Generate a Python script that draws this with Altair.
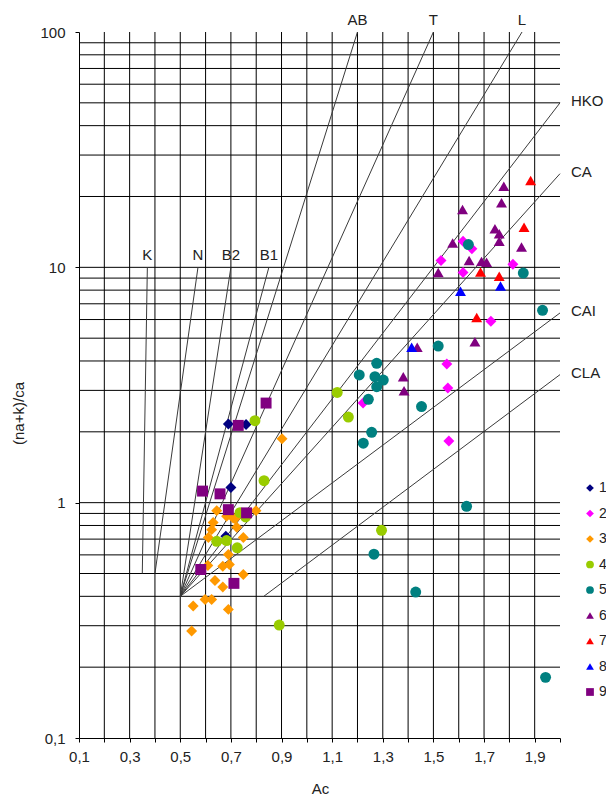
import altair as alt
import pandas as pd

# ---- samples: Ac versus (na+k)/ca, one pair of lists per group ----
s1_x = [0.69, 0.76, 0.70, 0.68]
s1_y = [2.16, 2.15, 1.16, 0.72]

s2_x = [1.53, 1.617, 1.652, 1.617, 1.814, 1.727, 1.553, 1.557, 1.561, 1.222]
s2_y = [10.7, 12.9, 12.0, 9.5, 10.3, 5.9, 3.88, 3.07, 1.83, 2.65]

s3_x = [0.902, 0.644, 0.799, 0.683, 0.709, 0.630, 0.716, 0.624, 0.723, 0.611, 0.749,
        0.690, 0.609, 0.668, 0.694, 0.749, 0.637, 0.668, 0.598, 0.624, 0.551, 0.690, 0.545]
s3_y = [1.87, 0.925, 0.925, 0.875, 0.861, 0.823, 0.855, 0.768, 0.786, 0.711, 0.711,
        0.602, 0.541, 0.537, 0.546, 0.495, 0.467, 0.438, 0.388, 0.388, 0.364, 0.352, 0.285]

s4_x = [0.795, 0.831, 0.736, 0.758, 0.644, 0.683, 0.725, 0.891, 1.120, 1.164, 1.295]
s4_y = [2.23, 1.24, 0.907, 0.870, 0.685, 0.690, 0.643, 0.302, 2.94, 2.31, 0.763]

s5_x = [1.638, 1.855, 1.931, 1.519, 1.276, 1.207, 1.269, 1.302, 1.276, 1.243, 1.453,
        1.256, 1.223, 1.631, 1.265, 1.430, 1.943]
s5_y = [12.5, 9.46, 6.57, 4.63, 3.91, 3.49, 3.43, 3.32, 3.11, 2.75, 2.56,
        1.99, 1.79, 0.965, 0.604, 0.417, 0.181]

s6_x = [1.778, 1.615, 1.769, 1.743, 1.760, 1.760, 1.576, 1.641, 1.690, 1.710, 1.848,
        1.519, 1.436, 1.381, 1.384, 1.664]
s6_y = [22.1, 17.6, 18.8, 14.6, 13.9, 12.9, 12.7, 10.7, 10.6, 10.5, 12.2,
        9.5, 4.57, 3.43, 2.99, 4.83]

s7_x = [1.884, 1.858, 1.686, 1.760, 1.671]
s7_y = [23.4, 14.8, 9.55, 9.16, 6.12]

s8_x = [1.607, 1.765, 1.414]
s8_y = [7.91, 8.33, 4.57]

s9_x = [0.839, 0.729, 0.588, 0.657, 0.690, 0.762, 0.581, 0.712]
s9_y = [2.65, 2.13, 1.12, 1.09, 0.934, 0.905, 0.520, 0.454]

groups = ["1", "2", "3", "4", "5", "6", "7", "8", "9"]
group_colors = ["#000080", "#FF00FF", "#FF9900", "#99CC00", "#008080",
                "#800080", "#FF0000", "#0000FF", "#800080"]
group_shapes = ["diamond", "diamond", "diamond", "circle", "circle",
                "triangle-up", "triangle-up", "triangle-up", "square"]

# ---- classification boundary lines (start point -> end point) ----
line_names = ["K", "N", "B2", "B1", "AB", "T", "L", "HKO", "CA", "CAI", "CLA"]
line_x0 = [0.35, 0.40, 0.5, 0.5, 0.5, 0.5, 0.5, 0.5, 0.5, 0.5, 0.83]
line_y0 = [0.5, 0.5, 0.4, 0.4, 0.4, 0.4, 0.4, 0.4, 0.4, 0.4, 0.4]
line_x1 = [0.37, 0.57, 0.70, 0.85, 1.20, 1.50, 1.85, 2.0, 2.0, 2.0, 2.0]
line_y1 = [10, 10, 10, 10, 100, 100, 100, 50, 25, 6.4, 3.5]

# ---- grid ----
x_grid = [round(0.1 * i, 1) for i in range(2, 20)]
y_grid = [round(m * d, 2) for d in (0.1, 1, 10) for m in range(2, 10)] + [1, 10]
x_ticks = [round(0.1 * i, 1) for i in range(1, 21)]
y_ticks = [0.1, 1, 10, 100]

FONT = "Liberation Sans"
INK = "#222222"
XMAX = 2.0

xs = [s1_x, s2_x, s3_x, s4_x, s5_x, s6_x, s7_x, s8_x, s9_x]
ys = [s1_y, s2_y, s3_y, s4_y, s5_y, s6_y, s7_y, s8_y, s9_y]
rows = []
for g, gx, gy in zip(groups, xs, ys):
    for a, b in zip(gx, gy):
        rows.append({"group": g, "Ac": a, "ratio": b})
pts = pd.DataFrame(rows)

seg_rows = []
for n, a0, b0, a1, b1 in zip(line_names, line_x0, line_y0, line_x1, line_y1):
    seg_rows.append({"name": n, "Ac": a0, "ratio": b0, "end": 0})
    seg_rows.append({"name": n, "Ac": a1, "ratio": b1, "end": 1})
segs = pd.DataFrame(seg_rows)

ends = segs[segs["end"] == 1]
top_labels = ends[ends["Ac"] < XMAX]
side_labels = ends[ends["Ac"] >= XMAX]

x_scale = alt.Scale(domain=[0.1, XMAX], nice=False, zero=False)
y_scale = alt.Scale(type="log", domain=[0.1, 100], nice=False)

x_label_expr = ("(round(datum.value * 10) % 2 == 1) ? "
                "replace(format(datum.value, '.1f'), '.', ',') : ''")
y_label_expr = "replace(format(datum.value, '~g'), '.', ',')"

x_axis = alt.Axis(
    title="Ac", values=x_ticks, labelExpr=x_label_expr, grid=False,
    tickSize=4, labelPadding=7, labelFont=FONT, labelFontSize=15,
    labelColor=INK, titleFont=FONT, titleFontSize=15, titleFontWeight="normal",
    titleColor=INK, titleX=241, titleY=55, titleBaseline="alphabetic",
    domainColor="#000000", tickColor="#000000", labelFlush=False, labelOverlap=False,
)
y_axis = alt.Axis(
    title="(na+k)/ca", values=y_ticks, labelExpr=y_label_expr, grid=False,
    tickSize=4, labelPadding=10, labelFont=FONT, labelFontSize=15,
    labelColor=INK, titleFont=FONT, titleFontSize=15, titleFontWeight="normal",
    titleColor=INK, titleX=-61, titleY=381, titleAlign="center",
    titleBaseline="middle", titleAngle=270,
    domainColor="#000000", tickColor="#000000", labelFlush=False, labelOverlap=False,
)

X = alt.X("Ac:Q", scale=x_scale, axis=x_axis)
Y = alt.Y("ratio:Q", scale=y_scale, axis=y_axis)

vgrid = alt.Chart(pd.DataFrame({"Ac": x_grid})).mark_rule(
    color="#000000", strokeWidth=1
).encode(x=X)

hgrid = alt.Chart(pd.DataFrame({"ratio": y_grid})).mark_rule(
    color="#000000", strokeWidth=1
).encode(y=Y)

lines = alt.Chart(segs).mark_line(color="#3a3a3a", strokeWidth=1).encode(
    x=X, y=Y, detail="name:N", order="end:Q",
)

top_text = alt.Chart(top_labels).mark_text(
    font=FONT, fontSize=15, color=INK, align="center", baseline="alphabetic", dy=-7
).encode(x=X, y=Y, text="name:N")

side_text = alt.Chart(side_labels).mark_text(
    font=FONT, fontSize=15, color=INK, align="left", baseline="middle", dx=11, dy=-2
).encode(x=X, y=Y, text="name:N")

legend = alt.Legend(title=None, orient="none", legendX=504, legendY=449,
                    symbolSize=60, labelFont=FONT, labelFontSize=14,
                    labelColor=INK, rowPadding=11.5, labelOffset=2,
                    symbolStrokeWidth=0, padding=0)

points = alt.Chart(pts).mark_point(filled=True, opacity=1, size=120, strokeWidth=0).encode(
    x=X,
    y=Y,
    color=alt.Color("group:N", scale=alt.Scale(domain=groups, range=group_colors),
                    legend=legend),
    shape=alt.Shape("group:N", scale=alt.Scale(domain=groups, range=group_shapes),
                    legend=legend),
)

chart = alt.layer(vgrid, hgrid, lines, top_text, side_text, points).properties(
    width=481,
    height=706,
    padding={"left": 79, "top": 32, "right": 46, "bottom": 58},
    autosize=alt.AutoSizeParams(type="none"),
    background="#ffffff",
).configure_view(stroke=None)

chart.save("out.html", embed_options={"renderer": "svg", "actions": False})
